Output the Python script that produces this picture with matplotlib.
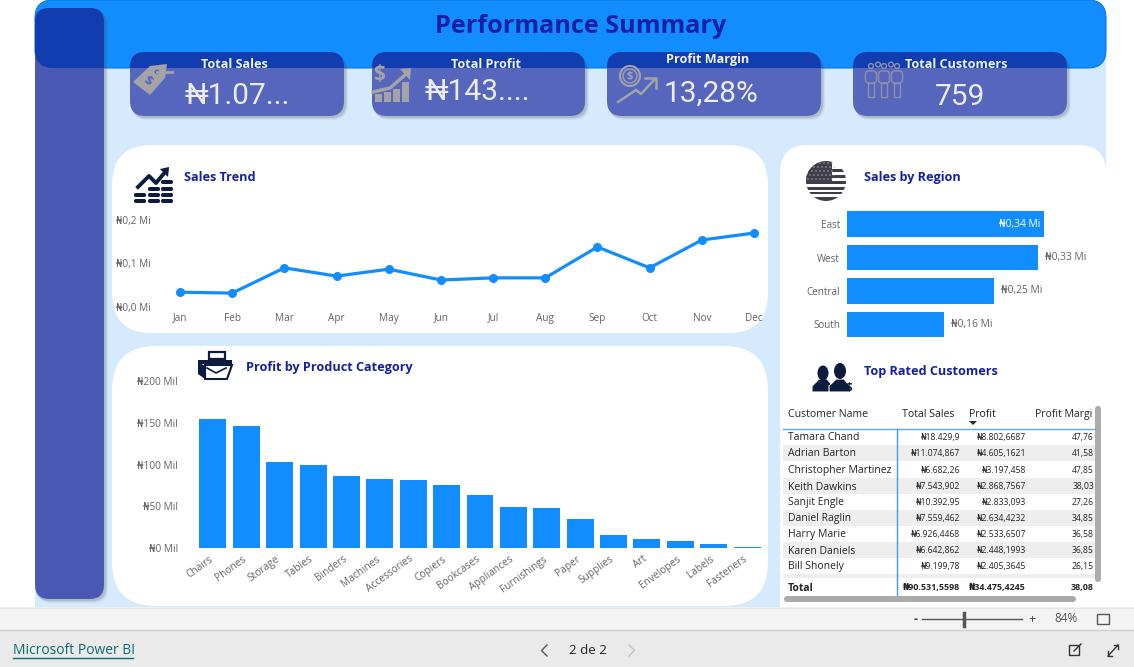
import matplotlib
matplotlib.use("Agg")
import matplotlib.pyplot as plt
from matplotlib.patches import FancyBboxPatch, Rectangle, Circle, Polygon, Ellipse
from matplotlib.transforms import ScaledTranslation
import numpy as np

plt.rcParams['font.family'] = ['Open Sans', 'DejaVu Sans']

months = ['Jan','Feb','Mar','Apr','May','Jun','Jul','Aug','Sep','Oct','Nov','Dec']
sales_trend = [0.034,0.032,0.090,0.071,0.087,0.062,0.067,0.067,0.138,0.090,0.154,0.170]
categories = ['Chairs','Phones','Storage','Tables','Binders','Machines','Accessories','Copiers',
              'Bookcases','Appliances','Furnishings','Paper','Supplies','Art','Envelopes','Labels','Fasteners']
cat_profit = [154.5,146,103,99.5,86,83,81.5,75.5,63.5,49,48,35,16,11,8.5,5,1]
regions = ['East','West','Central','South']
region_sales = [0.34,0.33,0.254,0.167]
region_labels = ['₦0,34 Mi','₦0,33 Mi','₦0,25 Mi','₦0,16 Mi']
kpi_titles = ['Total Sales','Total Profit','Profit Margin','Total Customers']
kpi_values = ['₦1.07...','₦143....','13,28%','759']
table_cols = ['Customer Name','Total Sales','Profit','Profit Margi']
cust_names = ['Tamara Chand','Adrian Barton','Christopher Martinez','Keith Dawkins','Sanjit Engle',
              'Daniel Raglin','Harry Marie','Karen Daniels','Bill Shonely']
cust_sales = ['₦18.429,9','₦11.074,867','₦6.682,26','₦7.543,902','₦10.392,95','₦7.559,462','₦6.926,4468','₦6.642,862','₦9.199,78']
cust_profit = ['₦8.802,6687','₦4.605,1621','₦3.197,458','₦2.868,7567','₦2.833,093','₦2.634,4232','₦2.533,6507','₦2.448,1993','₦2.405,3645']
cust_margin = ['47,76','41,58','47,85','38,03','27,26','34,85','36,58','36,85','26,15']
table_total = ['Total','₦90.531,5598','₦34.475,4245','38,08']

W, H = 1134, 667
BLUE = '#118DFF'
NAVY = '#14209E'
GREY = '#666462'
fig = plt.figure(figsize=(W/100, H/100), dpi=100, facecolor='white')
bg = fig.add_axes([0, 0, 1, 1], zorder=0)
bg.set_xlim(0, W); bg.set_ylim(H, 0); bg.axis('off')
top = fig.add_axes([0, 0, 1, 1], zorder=5)
top.set_xlim(0, W); top.set_ylim(H, 0); top.axis('off'); top.patch.set_alpha(0)

def rrect(ax, x0, y0, x1, y1, r, **kw):
    p = FancyBboxPatch((x0+r, y0+r), x1-x0-2*r, y1-y0-2*r, boxstyle=f"round,pad={r},rounding_size={r}",
                       linewidth=kw.pop('lw', 0), **kw)
    ax.add_patch(p)
    return p

def pix_axes(x0, y0, x1, y1):
    ax = fig.add_axes([x0/W, 1-y1/H, (x1-x0)/W, (y1-y0)/H], zorder=2)
    ax.patch.set_alpha(0)
    for s in ax.spines.values():
        s.set_visible(False)
    return ax

# page
bg.add_patch(Rectangle((35, 20), 1071, 587, fc='#D6EAFE', lw=0))
banner = rrect(bg, 35, 0, 1106, 68, 18, fc=BLUE, ec='#0E78DA', lw=0.8)

# white panels
rrect(bg, 112, 145, 768, 333, 40, fc='white')
rrect(bg, 112, 346, 768, 606, 44, fc='white')
rrect(bg, 780, 145, 1106, 660, 28, fc='white')
bg.add_patch(Rectangle((1100, 175), 34, 432, fc='white', lw=0))

# footer bars
bg.add_patch(Rectangle((0, 607), W, 23, fc='#F3F3F3', lw=0))
bg.add_patch(Rectangle((0, 630), W, 37, fc='#EAEAEA', lw=0))
bg.plot([0, W], [630, 630], color='#CFCFCF', lw=1)
bg.plot([0, W], [607.5, 607.5], color='#E4E4E4', lw=1)

# sidebar and cards: lighter over the page, darker where they pass under the banner
banner_clip = FancyBboxPatch((53, 18), 1035, 32, boxstyle="round,pad=18,rounding_size=18",
                             transform=top.transData, lw=0)

def card(x0, y0, x1, y1, r, light):
    for off, a in ((4, 0.06), (3, 0.10), (2, 0.14)):
        rrect(top, x0+off-1, y0+off, x1+off, y1+off, r, fc='#444444', alpha=a)
    rrect(top, x0, y0, x1, y1, r, fc=light)
    d = rrect(top, x0, y0, x1, y1, r, fc='#113DB1')
    d.set_clip_path(banner_clip)

card(35, 8, 104, 599, 14, '#4A5AB4')
cards = [(130,344),(372,585),(607,821),(853,1067)]
for x0, x1 in cards:
    card(x0, 52, x1, 116, 15, '#5566BC')

# KPI text
title_xy = [(234,65),(486,64),(708,60),(956,64)]
value_xy = [(237.5,96),(477,92),(711,93.5),(960,97)]
kpi_fonts = ['Roboto', 'DejaVu Sans']
for t, (x, y) in zip(kpi_titles, title_xy):
    top.text(x, y, t, color='#F2F2F2', fontsize=9.1, fontweight='bold', ha='center', va='center')
for t, (x, y) in zip(kpi_values, value_xy):
    top.text(x, y, t, color='#ECECF2', fontsize=21.5, ha='center', va='center', family=kpi_fonts)

# title
top.text(581, 26.5, 'Performance Summary', color='#1520A6', fontsize=18.2, fontweight='bold', ha='center', va='center')

# KPI icons
ICON = '#A3A3A8'
top.add_patch(Polygon([(133,82),(150,66),(167,64),(165,78),(150,95)], fc=ICON, lw=0))
top.add_patch(Circle((157,72), 3.5, fc='#5566BC', ec=ICON, lw=1.5))
top.plot([157,172],[72,72], color=ICON, lw=2)
top.text(148, 81, '$', color='#5566BC', fontsize=9.5, ha='center', va='center', fontweight='bold', rotation=-35)
top.text(379, 74, '$', color=ICON, fontsize=15, ha='center', va='center', fontweight='bold')
for x, h in ((378,8),(387,10),(396,13),(405,20)):
    top.add_patch(Rectangle((x-3.5, 102-h), 7, h, fc=ICON, lw=0))
top.plot([373,390,405],[92,88,75], color=ICON, lw=2.5)
top.add_patch(Polygon([(400,69),(411,68),(410,80)], fc=ICON, lw=0))
top.add_patch(Circle((630,76), 10, fc='none', ec=ICON, lw=1.5))
top.add_patch(Circle((630,76), 7, fc='none', ec=ICON, lw=1))
top.text(630, 76, '$', color=ICON, fontsize=8, ha='center', va='center', fontweight='bold')
top.plot([618,636,641,655],[102,90,94,79], color=ICON, lw=1.8)
top.plot([645,656,656],[78,78,88], color=ICON, lw=1.8)
PEOPLE = '#8E90A8'
for x in (871,878,884,891,897):
    top.add_patch(Circle((x, 66 if x in (871,884,897) else 64.5), 2.4, fc='none', ec=PEOPLE, lw=1))
for xc in (871,884,897):
    rrect(top, xc-5.5, 71, xc+5.5, 83, 3, fc='none', ec=PEOPLE, lw=1)
    top.add_patch(Rectangle((xc-3, 83), 6, 14, fc='none', ec=PEOPLE, lw=1))

# Sales trend
top.text(184, 177.5, 'Sales Trend', color=NAVY, fontsize=9.1, fontweight='bold', ha='left', va='center')
ICD = '#0D1B3E'
for x, ys in ((140,(195,201)),(154,(189,195,201)),(167,(182,189,195,201))):
    for y in ys:
        rrect(top, x-6, y-2, x+6, y+2, 1.8, fc=ICD)
top.plot([138,149,156,166],[187,176,183,171], color=ICD, lw=2.8)
top.add_patch(Polygon([(160,169),(169,167),(168,177)], fc=ICD, lw=0))

ax1 = pix_axes(154, 220, 766, 307)
ax1.plot(range(12), sales_trend, color=BLUE, lw=2.3, marker='o', ms=5.5, clip_on=False)
ax1.set_xlim(-26/52.2, 11+12/52.2)
ax1.set_ylim(0, 0.2)
ax1.set_xticks(range(12), months)
ax1.set_yticks([0, 0.1, 0.2], ['₦0,0 Mi', '₦0,1 Mi', '₦0,2 Mi'])
ax1.tick_params(length=0, labelsize=7.2, labelcolor=GREY, pad=2.5)
ax1.tick_params(axis='x', pad=4)

# Profit by category
top.text(246, 367, 'Profit by Product Category', color=NAVY, fontsize=9.1, fontweight='bold', ha='left', va='center')
top.add_patch(Polygon([(209,359),(209,352),(225,352),(225,359)], fc='white', ec=ICD, lw=1.6))
top.add_patch(Rectangle((198,360), 34, 4, fc=ICD, lw=0))
top.add_patch(Polygon([(205,365),(232,365),(227,379),(205,379)], fc='white', ec=ICD, lw=1.5))
top.add_patch(Polygon([(198,362),(205,366),(205,379),(198,374)], fc=ICD, lw=0))
top.plot([207,216,226],[368,373,368], color=ICD, lw=1.2)

ax2 = pix_axes(196.3, 381, 763.7, 548)
ax2.bar(range(17), cat_profit, width=27/33.4, color=BLUE)
ax2.set_xlim(-0.5, 16.5)
ax2.set_ylim(0, 200)
ax2.set_yticks([0, 50, 100, 150, 200], ['₦0 Mil','₦50 Mil','₦100 Mil','₦150 Mil','₦200 Mil'])
ax2.set_xticks(range(17))
ax2.set_xticklabels(categories, rotation=36, ha='right', rotation_mode='anchor')
ax2.tick_params(length=0, labelsize=7.3, labelcolor=GREY)
ax2.tick_params(axis='y', pad=13)
ax2.tick_params(axis='x', pad=4)
shift = ScaledTranslation(-4/100, 0, fig.dpi_scale_trans)
for lab in ax2.get_xticklabels():
    lab.set_transform(lab.get_transform() + shift)

# Sales by region
top.text(864, 177, 'Sales by Region', color=NAVY, fontsize=9.1, fontweight='bold', ha='left', va='center')
FLAG = '#3F3D4A'
flag = Circle((826,181), 20, transform=top.transData)
for y0, y1 in ((169,172),(175,178),(181,184),(187,190),(192,194),(197,201)):
    r = top.add_patch(Rectangle((805, y0), 42, y1-y0, fc=FLAG, lw=0)); r.set_clip_path(flag)
c = top.add_patch(Rectangle((805, 160), 27, 22, fc=FLAG, lw=0)); c.set_clip_path(flag)
for yy in range(163, 182, 4):
    for xx in range(808, 833, 4):
        d = top.add_patch(Circle((xx + (2 if (yy-163) % 8 else 0), yy), 0.7, fc='#B8B8C0', lw=0)); d.set_clip_path(flag)

ax3 = pix_axes(847, 207.5, 1090, 341.5)
ax3.barh(range(4), region_sales, height=26/34, color=BLUE)
ax3.set_ylim(3.5+0.44/34, -0.5)
ax3.set_xlim(0, 243/579.4)
ax3.set_xticks([])
ax3.set_yticks(range(4), regions)
ax3.tick_params(length=0, labelsize=7.1, labelcolor=GREY, pad=5)
for i, (v, t) in enumerate(zip(region_sales, region_labels)):
    if i == 0:
        ax3.text(v-0.006, i, t, color='white', fontsize=7.4, ha='right', va='center')
    else:
        ax3.text(v+0.012, i, t, color=GREY, fontsize=7.4, ha='left', va='center')

# Top customers
top.text(864, 372, 'Top Rated Customers', color=NAVY, fontsize=9.1, fontweight='bold', ha='left', va='center')
for xc, yc, w, h in ((823,373,11,15),(840,371,12,16)):
    top.add_patch(Polygon([(xc-11,392),(xc-11,386),(xc-4,379),(xc+4,379),(xc+10,386),(xc+10,392)], fc=ICD, ec='white', lw=0.8))
    top.add_patch(Ellipse((xc,yc), w, h, fc=ICD, lw=0))
top.text(849, 388, '$', color=ICD, fontsize=8.5, fontweight='bold', ha='center', va='center')

# table
TX = '#252423'
top.text(787.5, 414.5, table_cols[0], fontsize=7.6, color=TX, va='center')
top.text(902, 414.5, table_cols[1], fontsize=7.6, color=TX, va='center')
top.text(969, 414.5, table_cols[2], fontsize=7.6, color=TX, va='center')
top.text(1035, 414.5, table_cols[3], fontsize=7.6, color=TX, va='center')
top.add_patch(Polygon([(969,421),(977,421),(973,425)], fc=TX, lw=0))
rows_y = [437,453,470,486,502,518,534,550,566]
for i, y in enumerate(rows_y):
    if i % 2 == 1:
        top.add_patch(Rectangle((783, y-8), 312, 16, fc='#EEEEEE', lw=0))
    top.text(787.5, y+1, cust_names[i], fontsize=7.5, color=TX, va='center')
    top.text(960, y+0.5, cust_sales[i], fontsize=6.2, color=TX, va='center', ha='right')
    top.text(1026, y+0.5, cust_profit[i], fontsize=6.2, color=TX, va='center', ha='right')
    top.text(1094, y+0.5, cust_margin[i], fontsize=6.2, color=TX, va='center', ha='right')
top.add_patch(Rectangle((783, 574), 312, 4, fc='#EEEEEE', lw=0))
top.plot([783,1095],[429,429], color='#5AA9F5', lw=1)
top.plot([897,897],[429,595], color='#3E9BF2', lw=1)
top.text(787.5, 588.5, table_total[0], fontsize=7.5, color=TX, va='center', fontweight='bold')
top.text(960, 587.5, table_total[1], fontsize=6.4, color=TX, va='center', ha='right', fontweight='bold')
top.text(1026, 587.5, table_total[2], fontsize=6.4, color=TX, va='center', ha='right', fontweight='bold')
top.text(1094, 587.5, table_total[3], fontsize=6.4, color=TX, va='center', ha='right', fontweight='bold')
rrect(top, 1095, 406, 1101, 582, 3, fc='#ABABAB')
rrect(top, 784, 596, 1076, 602, 3, fc='#ABABAB')

# footer
top.text(13, 651, 'Microsoft Power BI', fontsize=10, color='#0E6A6E', va='center')
top.plot([13,133],[658,658], color='#0E6A6E', lw=1)
top.text(588, 650, '2 de 2', fontsize=9.5, color='#222222', va='center', ha='center')
top.plot([547,541.5,547],[645,650.5,656], color='#555555', lw=1)
top.plot([629,634.5,629],[645,650.5,656], color='#C4C4C4', lw=1)
top.plot([922,1022],[619,619], color='#555555', lw=1)
top.plot([964,964],[613,626], color='#555555', lw=2.5)
top.text(915.5, 619, '-', fontsize=9, color='#444444', ha='center', va='center', fontweight='bold')
top.text(1032, 619, '+', fontsize=9, color='#444444', ha='center', va='center')
top.text(1066, 619, '84%', fontsize=8.5, color='#555555', ha='center', va='center')
top.add_patch(Rectangle((1097,614), 12, 10, fc='none', ec='#555555', lw=1))
top.add_patch(Rectangle((1069,645), 10, 10, fc='none', ec='#333333', lw=1))
top.plot([1074,1081],[651,644], color='#333333', lw=1)
top.plot([1108,1118],[656,645], color='#333333', lw=1)
top.plot([1108,1108,1112],[651,656,656], color='#333333', lw=1)
top.plot([1114,1118,1118],[645,645,649], color='#333333', lw=1)

fig.savefig('out.png', dpi=100, facecolor='white')
